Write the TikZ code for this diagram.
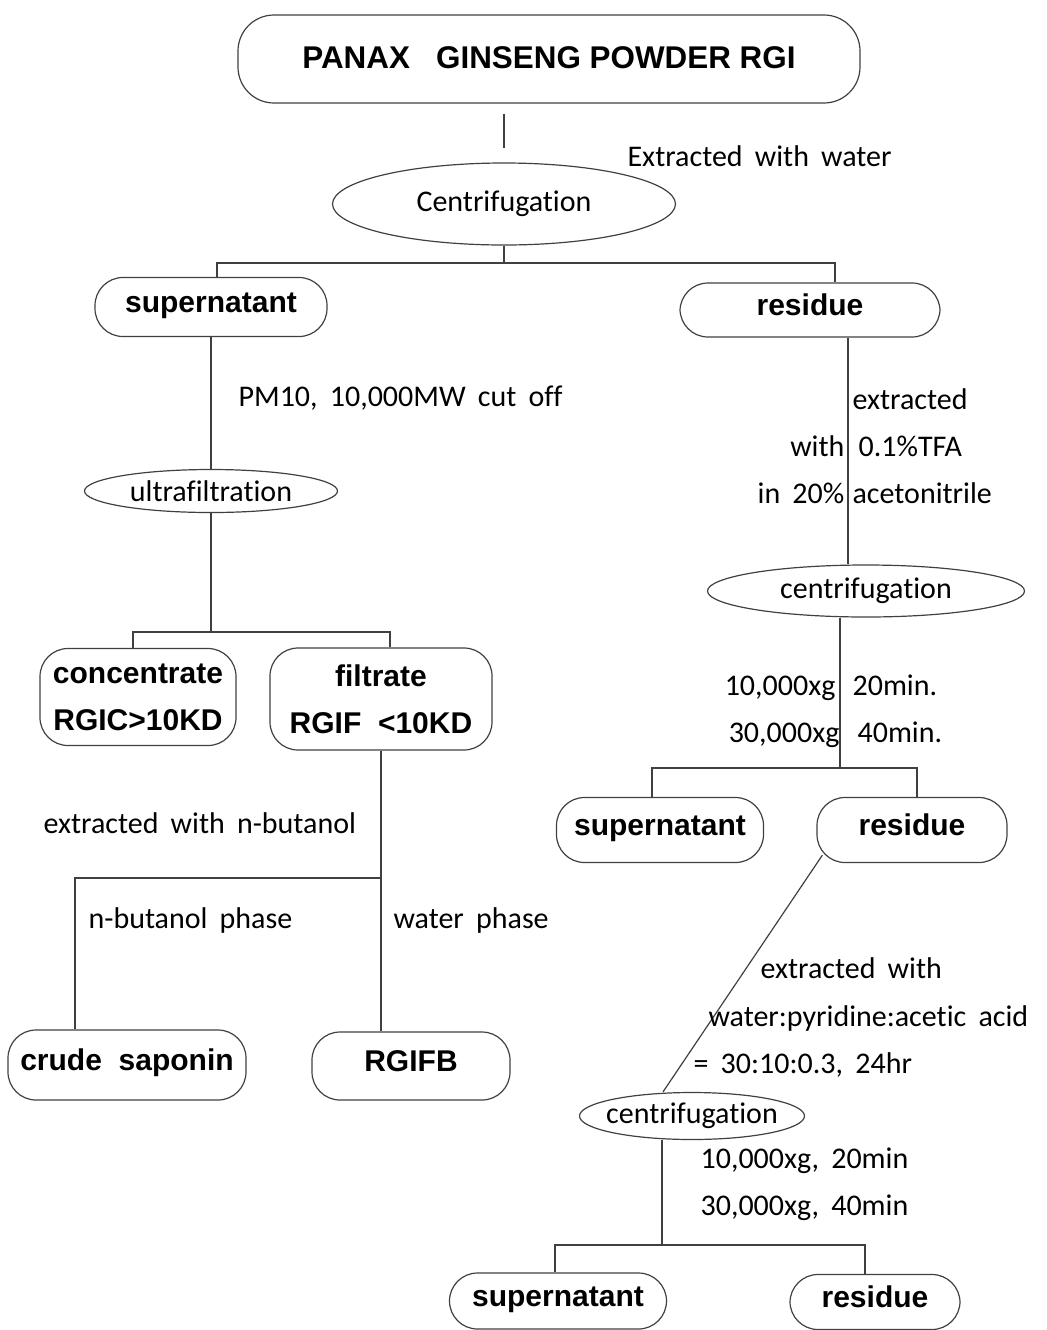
\documentclass[tikz,border=0pt]{standalone}
\usepackage{fontspec}
\setmainfont{Carlito}[WordSpace=1.8,Ligatures=NoCommon]
\newfontfamily\boxfont{Liberation Sans}
\usetikzlibrary{shapes.geometric}

\begin{document}
\begin{tikzpicture}[x=0.5pt,y=-0.5pt,draw=black!75,line width=0.6pt]
    \tikzstyle{stage}=[draw,rounded corners=14pt,inner sep=0pt,align=center,text height=0.73em,text depth=0.21em,font=\boxfont\bfseries\fontsize{15}{23.5}\selectfont]
    \tikzstyle{twostage}=[stage,text height=,text depth=]
    \tikzstyle{spin}=[draw,ellipse,inner sep=0pt,font=\fontsize{15}{18}\selectfont]
    \tikzstyle{note}=[inner sep=0pt,text height=1.1em,text depth=0.2em,font=\fontsize{15}{18}\selectfont]

    \useasboundingbox (0,0) rectangle (1047,1330);

    \node[stage,minimum width=311pt,minimum height=44pt,rounded corners=18pt,text height=0.9em,text depth=0em,font=\boxfont\bfseries\fontsize{15.7}{20}\selectfont] (ginseng) at (549,59) {PANAX\ \ \ GINSENG POWDER RGI};
    \node[spin,minimum width=171.5pt,minimum height=41pt] (cent1) at (504,204) {Centrifugation};

    \node[stage,minimum width=116pt,minimum height=29.5pt] (sup1) at (211,307) {supernatant};
    \node[stage,minimum width=130pt,minimum height=27pt] (res1) at (810,310) {residue};

    % left branch
    \node[spin,minimum width=126.5pt,minimum height=21.5pt] (ultra) at (211,491) {ultrafiltration};
    \node[twostage,minimum width=98pt,minimum height=48.5pt] (conc) at (138,697) {concentrate\\RGIC>10KD};
    \node[twostage,minimum width=111pt,minimum height=51pt] (filt) at (381,699) {filtrate\\RGIF\ \ <10KD};
    \node[stage,minimum width=119pt,minimum height=35pt] (crude) at (127,1065) {crude\ \ saponin};
    \node[stage,minimum width=99pt,minimum height=34pt] (rgifb) at (411,1066) {RGIFB};

    % right branch
    \node[spin,minimum width=158.5pt,minimum height=26pt] (cent2) at (866,591) {centrifugation};
    \node[stage,minimum width=103.5pt,minimum height=32.5pt] (sup2) at (660,830) {supernatant};
    \node[stage,minimum width=95pt,minimum height=32.5pt] (res2) at (912,830) {residue};
    \node[spin,inner xsep=-6pt,minimum width=112.5pt,minimum height=23.5pt] (cent3) at (692,1116) {centrifugation};
    \node[stage,minimum width=108.5pt,minimum height=28pt] (sup3) at (558,1301) {supernatant};
    \node[stage,minimum width=85pt,minimum height=27.5pt] (res3) at (875,1302) {residue};

    \coordinate (split1) at (504,263);
    \coordinate (split2) at (211,632);
    \coordinate (split3) at (381,878);
    \coordinate (split4) at (840,768);
    \coordinate (split5) at (662,1245);

    \draw[shorten <=5pt,shorten >=7pt] (ginseng.south -| cent1) -- (cent1);
    \draw (cent1) -- (split1);
    \draw ([xshift=3pt]sup1.north) |- (split1) -| ([xshift=12.5pt]res1.north);

    \draw (sup1) -- (ultra);
    \draw (ultra) -- (split2);
    \draw ([xshift=-2.5pt]conc.north) |- (split2) -| ([xshift=4.5pt]filt.north);
    \draw (filt) -- (filt |- rgifb.north);
    \draw (split3) -| ([xshift=-26pt]crude.north);

    \draw ([xshift=19pt]res1.south) -- ([xshift=-9pt]cent2.north);
    \draw ([xshift=-13pt]cent2.south) -- (split4);
    \draw ([xshift=-4pt]sup2.north) |- (split4) -| ([xshift=2.5pt]res2.north);
    \draw ([xshift=3pt,yshift=4pt]res2.south west) -- ([xshift=-14.5pt]cent3.north);
    \draw ([xshift=-15pt]cent3.south) -- (split5);
    \draw ([xshift=-1.5pt]sup3.north) |- (split5) -| ([xshift=-5pt]res3.north);

    % conditions
    \node[note,anchor=west] (water) at (627,157) {Extracted with water};
    \node[note,anchor=west] (cutoff) at (238,397) {PM10, 10,000MW cut off};
    \node[note,anchor=west] (tfa1) at (852,400) {extracted};
    \node[note,anchor=east] (tfa2) at (845,447) {with};
    \node[note,anchor=west] (tfa3) at (858,447) {0.1\%TFA};
    \node[note,anchor=east] (tfa4) at (845,494) {in 20\%};
    \node[note,anchor=west] (tfa5) at (852,494) {acetonitrile};
    \node[note,anchor=east] (g1) at (836,686) {10,000xg};
    \node[note,anchor=west] (t1) at (852,686) {20min.};
    \node[note,anchor=east] (g2) at (840,733) {30,000xg};
    \node[note,anchor=west] (t2) at (857,733) {40min.};
    \node[note,anchor=west] (buoh) at (43,824) {extracted with n-butanol};
    \node[note,anchor=west] (phase1) at (88,919) {n-butanol phase};
    \node[note,anchor=west] (phase2) at (393,919) {water phase};
    \node[note,anchor=west] (pyr1) at (760,969) {extracted with};
    \node[note,anchor=west] (pyr2) at (708,1017) {water:pyridine:acetic acid};
    \node[note,anchor=west] (pyr3) at (693,1064) {= 30:10:0.3, 24hr};
    \node[note,anchor=west] (g3) at (700,1159) {10,000xg, 20min};
    \node[note,anchor=west] (g4) at (700,1206) {30,000xg, 40min};
\end{tikzpicture}
\end{document}
